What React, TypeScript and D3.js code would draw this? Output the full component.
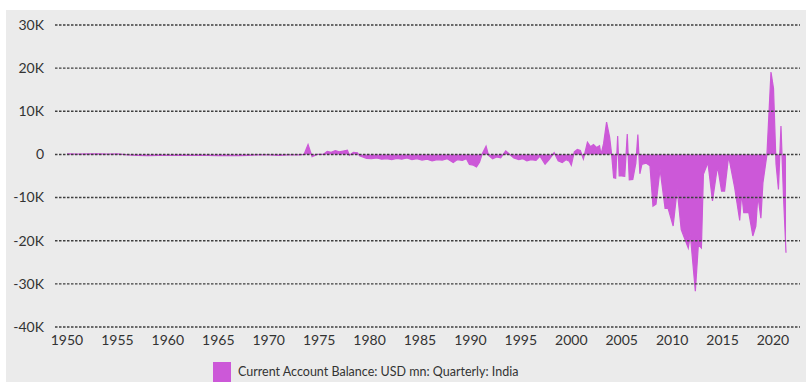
import React from "react";
import * as d3 from "d3";

const yTicks = [30000, 20000, 10000, 0, -10000, -20000, -30000, -40000];
const yTickLabels = ["30K", "20K", "10K", "0", "-10K", "-20K", "-30K", "-40K"];
const xTicks = [1950, 1955, 1960, 1965, 1970, 1975, 1980, 1985, 1990, 1995, 2000, 2005, 2010, 2015, 2020];
const seriesName = "Current Account Balance: USD mn: Quarterly: India";

// decimal year positions of observations
const dates = [
  1950, 1951, 1952, 1953, 1954, 1955, 1956, 1957, 1958, 1959,
  1960, 1961, 1962, 1963, 1964, 1965, 1966, 1967, 1968, 1969,
  1970, 1971, 1972, 1973, 1973.5, 1973.9, 1974.3, 1974.8, 1975.4, 1975.8,
  1976.2, 1976.6, 1977.0, 1977.4, 1977.8, 1978.0, 1978.4, 1978.8, 1979.0, 1979.7,
  1980.2, 1980.7, 1981.2, 1981.7, 1982.2, 1982.7, 1983.2, 1983.7, 1984.2, 1984.7,
  1985.2, 1985.7, 1986.2, 1986.7, 1987.2, 1987.7, 1988.3, 1988.7, 1989.2, 1989.6,
  1989.9, 1990.3, 1990.6, 1990.9, 1991.2, 1991.55, 1991.8, 1992.2, 1992.6, 1993.0,
  1993.5, 1993.9, 1994.3, 1994.8, 1995.2, 1995.6, 1996.0, 1996.5, 1996.9, 1997.4,
  1997.8, 1998.3, 1998.7, 1999.1, 1999.5, 1999.8, 2000.0, 2000.3, 2000.6, 2000.9,
  2001.2, 2001.6, 2001.9, 2002.2, 2002.5, 2002.8, 2002.95, 2003.2, 2003.5, 2003.8,
  2004.0, 2004.2, 2004.4, 2004.6, 2004.75, 2005.0, 2005.3, 2005.55, 2005.75, 2006.1,
  2006.4, 2006.6, 2006.8, 2007.0, 2007.4, 2007.8, 2008.1, 2008.4, 2008.8, 2009.3,
  2009.6, 2010.1, 2010.5, 2010.9, 2011.6, 2011.8, 2012.3, 2012.6, 2012.9, 2013.1,
  2013.55, 2014.0, 2014.5, 2014.9, 2015.2, 2015.6, 2016.2, 2016.7, 2016.9, 2017.1,
  2017.6, 2018.0, 2018.3, 2018.5, 2018.8, 2019.0, 2019.4, 2019.8, 2020.05, 2020.3,
  2020.54, 2020.79, 2021.04, 2021.29,
];

// USD mn
const values = [
  150, 100, 120, 150, 100, 120, -100, -250, -300, -200,
  -250, -200, -250, -200, -250, -300, -250, -300, -200, -100,
  -100, -200, -100, -100, 0, 2300, -500, 0, 0, 700,
  500, 900, 600, 800, 1000, -200, 500, 400, -300, -900,
  -1000, -800, -1100, -1000, -1200, -900, -1100, -800, -1200, -1000,
  -1300, -1100, -1500, -1200, -1300, -1000, -1900, -1200, -1400, -1000,
  -2300, -2500, -2900, -1800, 300, 1900, -200, -1000, -600, -800,
  800, 0, -800, -1200, -1000, -1500, -1200, -1400, -400, -2300,
  -1200, 400, -1500, -1900, -1200, -1600, -2500, 600, 1150, 900,
  -1100, 2850, 1800, 2300, 1600, 2000, 0, 2500, 7500, 4000,
  0, -5400, -5500, 4250, -5000, -5000, -5100, 4700, -5900, -5800,
  -2000, 4600, -4500, -2300, -2000, -2600, -12000, -11500, -3400, -12500,
  -12500, -16600, -8100, -17400, -21700, -18500, -31700, -20900, -21700, -4600,
  -1900, -10800, -2700, -8500, -8500, -400, -7700, -15300, -8900, -13500,
  -13500, -18900, -16600, -9600, -14800, -6600, 0, 19100, 15300, -2200,
  -8100, 6600, -9700, -22800,
];

const W = 808;
const H = 383;
const FILL = "#cc58d8";
const FONT = "Lato, 'Open Sans', sans-serif";

export default function App() {
  const x = d3.scaleLinear().domain([1950, 2020]).range([67, 773]);
  const y = d3.scaleLinear().domain([-40000, 30000]).range([327, 25]);
  const data = dates.map((d, i) => ({ d, v: values[i] }));
  const area = d3
    .area<{ d: number; v: number }>()
    .x((p) => x(p.d))
    .y0(y(0))
    .y1((p) => y(p.v));
  const line = d3
    .line<{ d: number; v: number }>()
    .x((p) => x(p.d))
    .y((p) => y(p.v));

  return (
    <svg
      width={W}
      height={H}
      style={{ position: "absolute", left: 0, top: 0, display: "block" }}
      fontFamily={FONT}
    >
      <rect x={0} y={0} width={W} height={H} fill="#ffffff" />
      <rect x={6} y={10} width={800} height={372} fill="#ebebeb" />
      <path d={area(data) || ""} fill={FILL} />
      <path d={line(data) || ""} fill="none" stroke={FILL} strokeWidth={1.2} />
      {yTicks.map((t, i) => (
        <g key={t}>
          <line
            x1={55}
            x2={800}
            y1={y(t)}
            y2={y(t)}
            stroke="#3f3f3f"
            strokeWidth={1.4}
            strokeDasharray="2.5,1.5"
          />
          <text
            x={44}
            y={y(t)}
            dy="0.35em"
            textAnchor="end"
            fontSize={14}
            fill="#333"
          >
            {yTickLabels[i]}
          </text>
        </g>
      ))}
      {xTicks.map((t) => (
        <text
          key={t}
          x={x(t)}
          y={340}
          dy="0.35em"
          textAnchor="middle"
          fontSize={14}
          fill="#333"
        >
          {t}
        </text>
      ))}
      <rect x={213} y={362} width={18} height={20} fill={FILL} />
      <text x={238} y={376} fontSize={12.5} fill="#333">
        {seriesName}
      </text>
    </svg>
  );
}
